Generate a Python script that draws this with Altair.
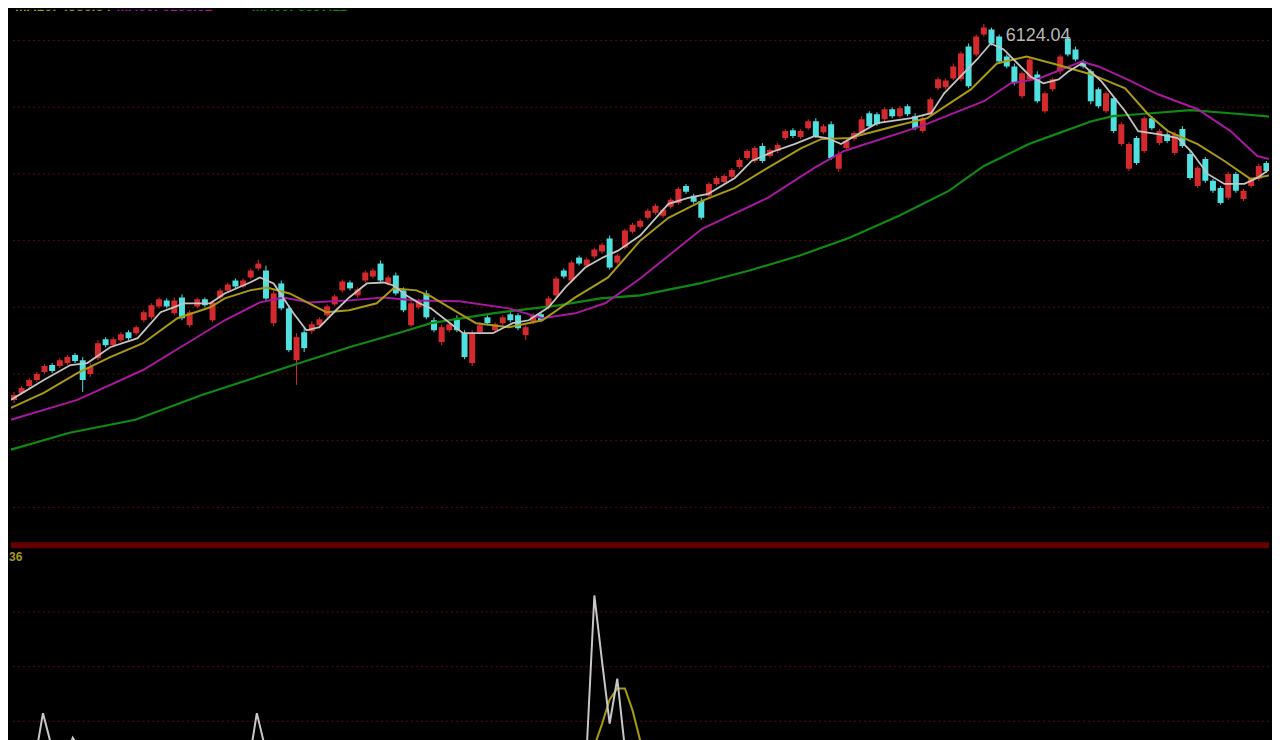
import altair as alt
import pandas as pd
import numpy as np

# ---------------- data (daily candles) ----------------
opens = [3306, 3358, 3410, 3455, 3515, 3567, 3560, 3582, 3642, 3604,
         3500, 3619, 3761, 3716, 3754, 3813, 3806, 3903, 3925, 4007,
         4052, 3955, 4074, 3865, 4007, 4060, 3903, 4074, 4127, 4201,
         4157, 4224, 4291, 4276, 3881, 4179, 3992, 3604, 3813, 3821,
         3865, 3940, 4022, 4127, 4186, 4089, 4201, 4231, 4328, 4179,
         4239, 4127, 3865, 4000, 4104, 3903, 3739, 3828, 3918, 3806,
         3582, 3813, 3925, 3828, 3881, 3948, 3940, 3791, 3888, 3948,
         4000, 4089, 4276, 4201, 4373, 4313, 4381, 4418, 4515, 4336,
         4448, 4567, 4604, 4671, 4709, 4686, 4754, 4783, 4910, 4836,
         4798, 4836, 4925, 4940, 4978, 5052, 5120, 5097, 5209, 5134,
         5172, 5269, 5328, 5276, 5343, 5395, 5313, 5373, 5038, 5194,
         5262, 5306, 5455, 5448, 5410, 5485, 5433, 5507, 5433, 5321,
         5448, 5642, 5649, 5716, 5709, 5955, 5895, 6045, 6082, 6030,
         5881, 5806, 5582, 5709, 5746, 5470, 5634, 5769, 6015, 5933,
         5843, 5769, 5634, 5470, 5567, 5224, 5038, 5269, 5172, 5418,
         5231, 5298, 5157, 5336, 5149, 4910, 5112, 4948, 4895, 4821,
         5000, 4813, 4910, 4963, 5082, 5038]
closes = [3343, 3395, 3455, 3500, 3560, 3522, 3604, 3627, 3597, 3455,
          3552, 3731, 3716, 3761, 3798, 3769, 3851, 3963, 4015, 4060,
          4007, 4052, 3918, 3963, 4060, 4015, 4037, 4127, 4172, 4157,
          4201, 4276, 4328, 4067, 4104, 3992, 3679, 3776, 3694, 3873,
          3910, 4007, 4082, 4194, 4142, 4134, 4261, 4276, 4201, 4224,
          4104, 3978, 4030, 4052, 3925, 3828, 3851, 3873, 3828, 3627,
          3806, 3865, 3881, 3873, 3925, 3903, 3843, 3851, 3940, 3903,
          4067, 4216, 4231, 4336, 4328, 4358, 4433, 4470, 4298, 4388,
          4575, 4619, 4649, 4724, 4761, 4731, 4806, 4888, 4866, 4791,
          4671, 4925, 4970, 4985, 5030, 5105, 5172, 5194, 5097, 5179,
          5216, 5321, 5284, 5321, 5395, 5284, 5358, 5120, 5149, 5246,
          5306, 5410, 5358, 5373, 5485, 5433, 5492, 5448, 5343, 5418,
          5560, 5709, 5701, 5806, 5903, 5657, 6030, 6097, 5978, 5843,
          5806, 5679, 5754, 5858, 5545, 5604, 5709, 5881, 5895, 5858,
          5806, 5545, 5507, 5604, 5321, 5373, 5224, 5082, 5418, 5343,
          5321, 5246, 5298, 5209, 4970, 5046, 4948, 4873, 4783, 5000,
          4873, 4873, 4963, 5060, 5022, 5097]
highs = [3366, 3410, 3470, 3515, 3575, 3582, 3619, 3642, 3657, 3627,
         3582, 3754, 3776, 3776, 3813, 3828, 3865, 3978, 4030, 4074,
         4067, 4074, 4097, 3978, 4074, 4074, 4052, 4142, 4186, 4216,
         4216, 4291, 4358, 4313, 4127, 4201, 4015, 3806, 3843, 3895,
         3925, 4022, 4097, 4209, 4201, 4149, 4276, 4291, 4351, 4239,
         4261, 4149, 4052, 4067, 4127, 3925, 3873, 3888, 3940, 3828,
         3828, 3888, 3940, 3888, 3940, 3963, 3955, 3865, 3955, 3963,
         4082, 4231, 4291, 4351, 4388, 4373, 4448, 4485, 4538, 4403,
         4590, 4634, 4664, 4739, 4776, 4746, 4821, 4903, 4925, 4851,
         4821, 4940, 4985, 5000, 5045, 5120, 5187, 5209, 5231, 5194,
         5231, 5336, 5343, 5336, 5410, 5418, 5373, 5395, 5172, 5261,
         5321, 5433, 5470, 5463, 5500, 5500, 5507, 5522, 5455, 5433,
         5575, 5724, 5716, 5828, 5918, 5978, 6045, 6124, 6097, 6045,
         5895, 5828, 5769, 5873, 5769, 5619, 5724, 5895, 6030, 5955,
         5858, 5784, 5649, 5619, 5582, 5388, 5239, 5284, 5433, 5433,
         5336, 5313, 5313, 5358, 5172, 5060, 5127, 4963, 4910, 5015,
         5015, 4888, 4978, 5075, 5097, 5112]
lows = [3283, 3343, 3395, 3440, 3500, 3507, 3545, 3567, 3582, 3366,
        3478, 3604, 3701, 3701, 3739, 3754, 3791, 3888, 3910, 3992,
        3992, 3940, 3903, 3851, 3992, 4000, 3888, 4060, 4112, 4142,
        4142, 4209, 4276, 4052, 3858, 3978, 3664, 3418, 3664, 3798,
        3843, 3925, 4007, 4112, 4127, 4074, 4186, 4216, 4186, 4164,
        4089, 3963, 3851, 3985, 3910, 3813, 3716, 3813, 3813, 3612,
        3560, 3798, 3865, 3813, 3865, 3888, 3828, 3754, 3873, 3888,
        3985, 4074, 4216, 4186, 4313, 4298, 4366, 4403, 4283, 4321,
        4433, 4552, 4590, 4657, 4694, 4671, 4739, 4769, 4851, 4776,
        4657, 4821, 4910, 4925, 4963, 5038, 5105, 5082, 5082, 5120,
        5157, 5254, 5269, 5261, 5328, 5269, 5298, 5105, 5015, 5179,
        5246, 5291, 5343, 5358, 5395, 5418, 5418, 5433, 5328, 5306,
        5433, 5627, 5634, 5701, 5694, 5642, 5881, 6030, 5963, 5828,
        5791, 5664, 5567, 5694, 5530, 5455, 5619, 5746, 5881, 5843,
        5791, 5522, 5492, 5455, 5306, 5209, 5022, 5067, 5157, 5328,
        5216, 5231, 5142, 5194, 4955, 4895, 4933, 4858, 4769, 4806,
        4858, 4798, 4895, 4948, 5007, 5022]

# moving-average lines at candle positions
ma_white_idx = [-0.4, 3.9, 7.4, 9.6, 12.6, 16.2, 19.2, 20.9, 22.2, 25.7, 27.6, 30.9, 32.2, 34.0,
                36.6, 38.3, 40.0, 41.9, 43.9, 46.2, 48.4, 49.7, 51.4, 53.1, 54.6, 56.6, 58.8,
                62.7, 65.3, 67.4, 70.0, 72.2, 74.8, 77.1, 79.1, 82.0, 85.7, 88.3, 90.9, 94.4,
                96.6, 99.6, 102.2, 104.8, 106.5, 108.3, 113.0, 117.5, 120.1, 121.8, 126.1,
                127.9, 129.6, 133.1, 134.8, 136.8, 138.1, 139.8, 142.4, 145.5, 147.2, 149.8,
                152.4, 154.1, 156.3, 158.5, 161.1, 162.8, 165.4]
ma_white_val = [3306, 3455, 3567, 3582, 3701, 3769, 3963, 4000, 4030, 4030, 4104, 4186, 4224, 4179,
                3955, 3828, 3851, 3963, 4074, 4179, 4186, 4164, 4089, 4030, 3992, 3903, 3806,
                3806, 3881, 3903, 4000, 4149, 4298, 4373, 4425, 4538, 4776, 4821, 4851, 4970,
                5097, 5172, 5224, 5284, 5269, 5224, 5381, 5418, 5455, 5604, 5858,
                5978, 5933, 5731, 5679, 5709, 5769, 5828, 5694, 5470, 5321, 5298,
                5269, 5172, 5000, 4925, 4925, 4970, 5075]
ma_yellow_idx = [-0.4, 3.9, 8.3, 12.6, 16.9, 21.4, 25.7, 27.6, 30.9, 33.1, 36.1, 40.9, 43.9, 47.5,
                 49.7, 52.7, 54.6, 58.3, 60.5, 64.8, 69.2, 73.5, 77.8, 82.0, 85.7, 90.1, 94.4,
                 98.7, 103.1, 105.7, 109.4, 115.3, 119.6, 125.3, 128.7, 132.6, 136.5, 141.1,
                 145.5, 148.5, 151.1, 155.0, 158.5, 161.9, 165.4]
ma_yellow_val = [3246, 3358, 3507, 3627, 3731, 3918, 4000, 4067, 4127, 4149, 4104, 3963, 3978, 4030,
                 4142, 4127, 4082, 3955, 3881, 3851, 3903, 4074, 4224, 4500, 4671, 4798, 4895,
                 5045, 5194, 5261, 5269, 5358, 5418, 5634, 5828, 5881, 5821, 5746,
                 5642, 5448, 5321, 5224, 5097, 4963, 5000]
ma_magenta_idx = [-0.4, 8.3, 16.9, 27.6, 32.2, 35.3, 38.7, 43.9, 48.4, 52.7, 58.3, 64.8, 69.2,
                  73.5, 77.4, 82.0, 90.1, 98.7, 104.8, 108.7, 118.8, 127.0, 130.5, 134.2,
                  139.8, 142.0, 145.5, 149.8, 155.0, 159.3, 162.8, 165.4]
ma_magenta_val = [3157, 3306, 3530, 3903, 4037, 4074, 4037, 4052, 4074, 4052, 4045, 3992, 3918,
                  3955, 4030, 4216, 4589, 4821, 5045, 5172, 5358, 5545, 5679, 5716,
                  5843, 5806, 5716, 5597, 5485, 5321, 5134, 5097]
ma_green_idx = [-0.4, 7.3, 15.9, 24.6, 33.4, 36.6, 43.9, 50.7, 54.6, 62.7, 71.3, 76.8, 82.0,
                89.8, 96.3, 102.9, 109.4, 115.9, 122.4, 127.0, 132.9, 136.8, 141.1, 143.9,
                148.9, 154.1, 159.3, 165.4]
ma_green_val = [2933, 3060, 3157, 3343, 3507, 3567, 3701, 3813, 3881, 3955, 4015, 4067, 4089,
                4179, 4276, 4388, 4522, 4686, 4873, 5060, 5224, 5306, 5395, 5433,
                5455, 5478, 5455, 5425]

# lower indicator panel
ind_white_idx = [-0.4, 2, 3, 3.8, 5, 6, 7, 7.7, 9, 30, 31, 31.8, 33, 34, 74, 75, 76, 77, 78, 79,
                 80, 81, 165.4]
ind_white_val = [0.3, 0.35, 0.5, 1.15, 0.5, 0.35, 0.45, 0.7, 0.4, 0.3, 0.45, 1.15, 0.45, 0.3,
                 0.3, 0.5, 3.3, 2.1, 0.96, 1.78, 0.5, 0.3, 0.3]
ind_yellow_idx = [-0.4, 74, 75, 76, 77, 78, 79, 80, 81, 82, 83, 165.4]
ind_yellow_val = [0.3, 0.3, 0.4, 0.55, 0.95, 1.4, 1.6, 1.6, 1.2, 0.65, 0.3, 0.3]

grid_main = [2500, 3000, 3500, 4000, 4500, 5000, 5500, 6000]
grid_sub = [1, 2, 3]
peak_label = "6124.04"
peak_index = 127
peak_value = 6124.04

# ---------------- styling ----------------
W = 1264
H_TOP = 535
H_BOT = 197
RED = "#d42a2e"
CYAN = "#4fe0e0"
GRID = "#5a0a0a"

candles = pd.DataFrame({"i": range(len(opens)), "open": opens, "close": closes,
                        "high": highs, "low": lows})
candles["dir"] = np.where(candles["close"] >= candles["open"], "up", "down")

xs = alt.Scale(domain=[-0.391, 164.34], nice=False, zero=False)
ys = alt.Scale(domain=[2239, 6231], nice=False, zero=False)
ysub = alt.Scale(domain=[0.636, 4.218], nice=False, zero=False)
cscale = alt.Scale(domain=["up", "down"], range=[RED, CYAN])

X = alt.X("i:Q", scale=xs, axis=None)

grid = alt.Chart(pd.DataFrame({"p": grid_main})).mark_rule(
    color=GRID, strokeDash=[2, 3], strokeWidth=1
).encode(y=alt.Y("p:Q", scale=ys, axis=None))

wicks = alt.Chart(candles).mark_rule(strokeWidth=1, clip=True).encode(
    x=X, y=alt.Y("low:Q", scale=ys, axis=None), y2="high:Q",
    color=alt.Color("dir:N", scale=cscale, legend=None))

bodies = alt.Chart(candles).mark_bar(width=6, clip=True).encode(
    x=X, y=alt.Y("open:Q", scale=ys, axis=None), y2="close:Q",
    color=alt.Color("dir:N", scale=cscale, legend=None))


def ma_line(idx, val, color, width=1.8):
    df = pd.DataFrame({"i": idx, "v": val})
    return alt.Chart(df).mark_line(color=color, strokeWidth=width, clip=True).encode(
        x=X, y=alt.Y("v:Q", scale=ys, axis=None))


green = ma_line(ma_green_idx, ma_green_val, "#0e8a12", 2.2)
magenta = ma_line(ma_magenta_idx, ma_magenta_val, "#a8189e", 2.0)
yellow = ma_line(ma_yellow_idx, ma_yellow_val, "#a89a14", 2.0)
white = ma_line(ma_white_idx, ma_white_val, "#c4c4c4", 1.8)

peak = alt.Chart(pd.DataFrame({"i": [peak_index], "p": [peak_value], "t": [peak_label]})).mark_text(
    align="left", baseline="middle", dx=22, dy=12, fontSize=18, color="#b8b8b8",
    font="Liberation Sans"
).encode(x=X, y=alt.Y("p:Q", scale=ys, axis=None), text="t:N")

top_texts = []
for label, color, xpos in [("MA10: 4986.54", "#a89a14", 4),
                           ("MA30: 5138.82", "#a8189e", 106),
                           ("MA60: 5397.11", "#0e8a12", 242)]:
    top_texts.append(
        alt.Chart(pd.DataFrame({"t": [label]})).mark_text(
            align="left", baseline="middle", fontSize=14, fontWeight="bold",
            color=color, clip=True, font="Liberation Sans"
        ).encode(x=alt.value(xpos), y=alt.value(-3), text="t:N"))

top = alt.layer(grid, wicks, bodies, green, magenta, yellow, white, peak, *top_texts).properties(
    width=W, height=H_TOP)

# ---------------- lower panel ----------------
sub_grid = alt.Chart(pd.DataFrame({"v": grid_sub})).mark_rule(
    color=GRID, strokeDash=[2, 3], strokeWidth=1
).encode(y=alt.Y("v:Q", scale=ysub, axis=None))

sep = alt.Chart(pd.DataFrame({"k": [0]})).mark_rule(color="#650000", strokeWidth=6).encode(
    y=alt.value(0))

sub_label = alt.Chart(pd.DataFrame({"t": ["36"]})).mark_text(
    align="left", baseline="middle", fontSize=12, fontWeight="bold", color="#a89a14",
    font="Liberation Sans"
).encode(x=alt.value(-2), y=alt.value(12), text="t:N")


def ind_line(idx, val, color):
    df = pd.DataFrame({"i": idx, "v": val})
    return alt.Chart(df).mark_line(color=color, strokeWidth=2, clip=True).encode(
        x=X, y=alt.Y("v:Q", scale=ysub, axis=None))


bottom = alt.layer(sub_grid, ind_line(ind_yellow_idx, ind_yellow_val, "#a89a14"),
                   ind_line(ind_white_idx, ind_white_val, "#c8c8c8"), sep, sub_label).properties(
    width=W, height=H_BOT)

chart = alt.vconcat(top, bottom, spacing=0).properties(
    background="black", padding=0
).configure_view(stroke=None).configure_scale(continuousPadding=0)

chart.save("out.html", embed_options={"renderer": "svg", "actions": False})
